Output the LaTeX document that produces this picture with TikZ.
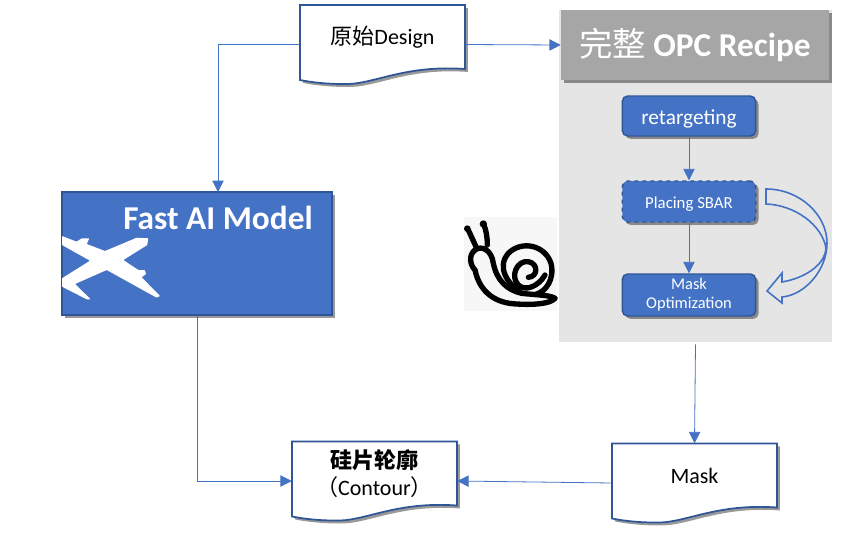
\documentclass[tikz,border=0pt]{standalone}
\usepackage{fontspec}
\setmainfont{Carlito}
\newfontfamily\cjk{Noto Sans CJK SC}
\usepackage{xcolor}
\usetikzlibrary{arrows.meta,shadows}
\definecolor{boxblue}{HTML}{4472C4}
\definecolor{edgeblue}{HTML}{2F5597}
\tikzset{
  softshadow/.style={drop shadow={shadow xshift=2.2pt,shadow yshift=-2.2pt,opacity=.4,fill=black}},
  flowline/.style={draw=boxblue,line width=.6pt,-{Triangle[length=8.5pt,width=8.5pt]}},
  bluebox/.style={draw=edgeblue,line width=1.1pt,fill=boxblue,rounded corners=4pt,minimum width=100pt,
    text=white,align=center,inner sep=0pt,softshadow},
  docline/.style={draw=edgeblue,line width=1.3pt,fill=white,softshadow},
  doctext/.style={minimum width=123.75pt,minimum height=59.25pt,inner sep=0pt,align=center,font=\fontsize{16.5}{20}\selectfont}
}
\newcommand{\docbox}[3]{%
  \begin{scope}[shift={(#2)}]
    \path[docline] (-82.5,-39.5) -- (82.5,-39.5) -- (82.5,24.5)
      .. controls (20,20) and (-10,41) .. (-40,39.5)
      .. controls (-55,39.5) and (-70,38) .. (-82.5,35.5) -- cycle;
  \end{scope}
  \node[doctext] (#1) at (#2) {#3};}
\begin{document}
\begin{tikzpicture}[x=.75pt,y=-.75pt]
  \useasboundingbox (0,0) rectangle (844,536);
  % recipe panel
  \node[fill=black!10,minimum width=204.75pt,minimum height=249pt,inner sep=0pt] (recipe) at (695.5,176) {};
  \node[fill=black!35,minimum width=201pt,minimum height=52.5pt,inner sep=0pt,text=white,softshadow,
    font=\fontsize{25}{29}\selectfont\bfseries] (header) at (695,45) {{\cjk\mdseries 完整} OPC Recipe};
  \node[bluebox,minimum height=30pt,font=\fontsize{16}{19}\selectfont] (retarget) at (689,116) {\raisebox{-6pt}[0pt][0pt]{retargeting}};
  \node[bluebox,minimum height=30.75pt,dashed,font=\fontsize{12.6}{15}\selectfont] (sbar) at (689,201.5) {\raisebox{-4.9pt}[0pt][0pt]{Placing SBAR}};
  \node[bluebox,minimum height=31.5pt,font=\fontsize{12.3}{14.5}\selectfont] (maskopt) at (689,295) {\raisebox{-4pt}{\begin{tabular}{@{}c@{}}Mask\\Optimization\end{tabular}}};
  % fast model
  \node[draw=edgeblue,line width=1.3pt,fill=boxblue,minimum width=202.5pt,minimum height=92.25pt,inner sep=0pt,softshadow] (fastai) at (197,253.5) {};
  \node[text=white,font=\fontsize{25}{29}\selectfont\bfseries,inner sep=0pt] (fasttitle) at (218,218) {Fast AI Model};
  \fill[white,rounded corners=.5pt] (148.3,238.3) -- (147.3,245) -- (123.3,260) -- (138.3,270) -- (145,270) -- (146,274)
    -- (141.7,277.3) -- (160,296) -- (156.7,297.7) -- (106.7,270) -- (75,284) -- (90.7,299.3) -- (86.7,299.3)
    -- (62,286.7) -- (62,278.3) -- (90,260.7) -- (62,245) -- (62,236) -- (76.7,241.7) -- (81.7,238.3)
    -- (89.3,238.3) -- (86.7,244) -- (105,251) -- (136.7,237.7) -- cycle;
  % snail
  \node[fill=black!3,minimum width=69.75pt,minimum height=70.5pt,inner sep=0pt] (snail) at (510.5,264) {};
  \begin{scope}[shift={(450,170)},x=.25pt,y=-.25pt,line width=4pt,line cap=round,line join=round]
    \draw (315,385) .. controls (300,375) and (260,375) .. (215,370) .. controls (170,360) and (140,330) .. (130,280)
      .. controls (125,240) and (95,225) .. (75,240) .. controls (55,255) and (60,285) .. (75,300)
      .. controls (90,370) and (140,400) .. (200,402) .. controls (250,405) and (300,402) .. (315,385);
    \draw (215,370) .. controls (170,340) and (140,290) .. (175,250) .. controls (215,210) and (285,225) .. (303,280)
      .. controls (315,330) and (285,365) .. (260,372);
    \draw (235,322) .. controls (265,320) and (265,280) .. (235,275) .. controls (200,270) and (180,320) .. (205,345)
      .. controls (225,365) and (265,350) .. (285,315);
    \draw (78,230) -- (55,180);
    \draw (112,225) .. controls (112,200) and (108,180) .. (102,165);
    \fill (52,176) circle (10);
    \fill (100,162) circle (11);
  \end{scope}
  % documents
  \docbox{design}{382.5,44.5}{\raisebox{14pt}{{\cjk 原始}Design}}
  \docbox{contour}{374.5,481}{\raisebox{23pt}{\begin{tabular}{@{}c@{}}{\cjk\bfseries 硅片轮廓}\\{\cjk（}Contour{\cjk）}\end{tabular}}}
  \docbox{mask}{694.5,483}{\raisebox{11pt}{Mask}}
  % block arrow
  \path[draw=boxblue,line width=1.2pt,fill=none] (766,189) .. controls (800,189) and (827,215) .. (827,243)
    .. controls (827,270) and (805,295) .. (782,297) -- (782,303) -- (767,291) -- (782,273) -- (782,282)
    .. controls (805,278) and (825,265) .. (826,248) .. controls (822,225) and (795,205) .. (766,204) -- cycle;
  % connectors
  \coordinate (fastin) at (218,192);
  \draw[flowline] (design.west) -| (fastin);
  \draw[flowline] (design.east) -- (header.west);
  \draw[flowline] (retarget) -- (sbar);
  \draw[flowline] (sbar) -- (maskopt);
  \draw[flowline] (recipe.south) ++(0,2) -- (mask.north);
  \draw[flowline] (fastai.south) |- (contour.west);
  \draw[flowline] (mask.west) -- (contour.east);
\end{tikzpicture}
\end{document}
